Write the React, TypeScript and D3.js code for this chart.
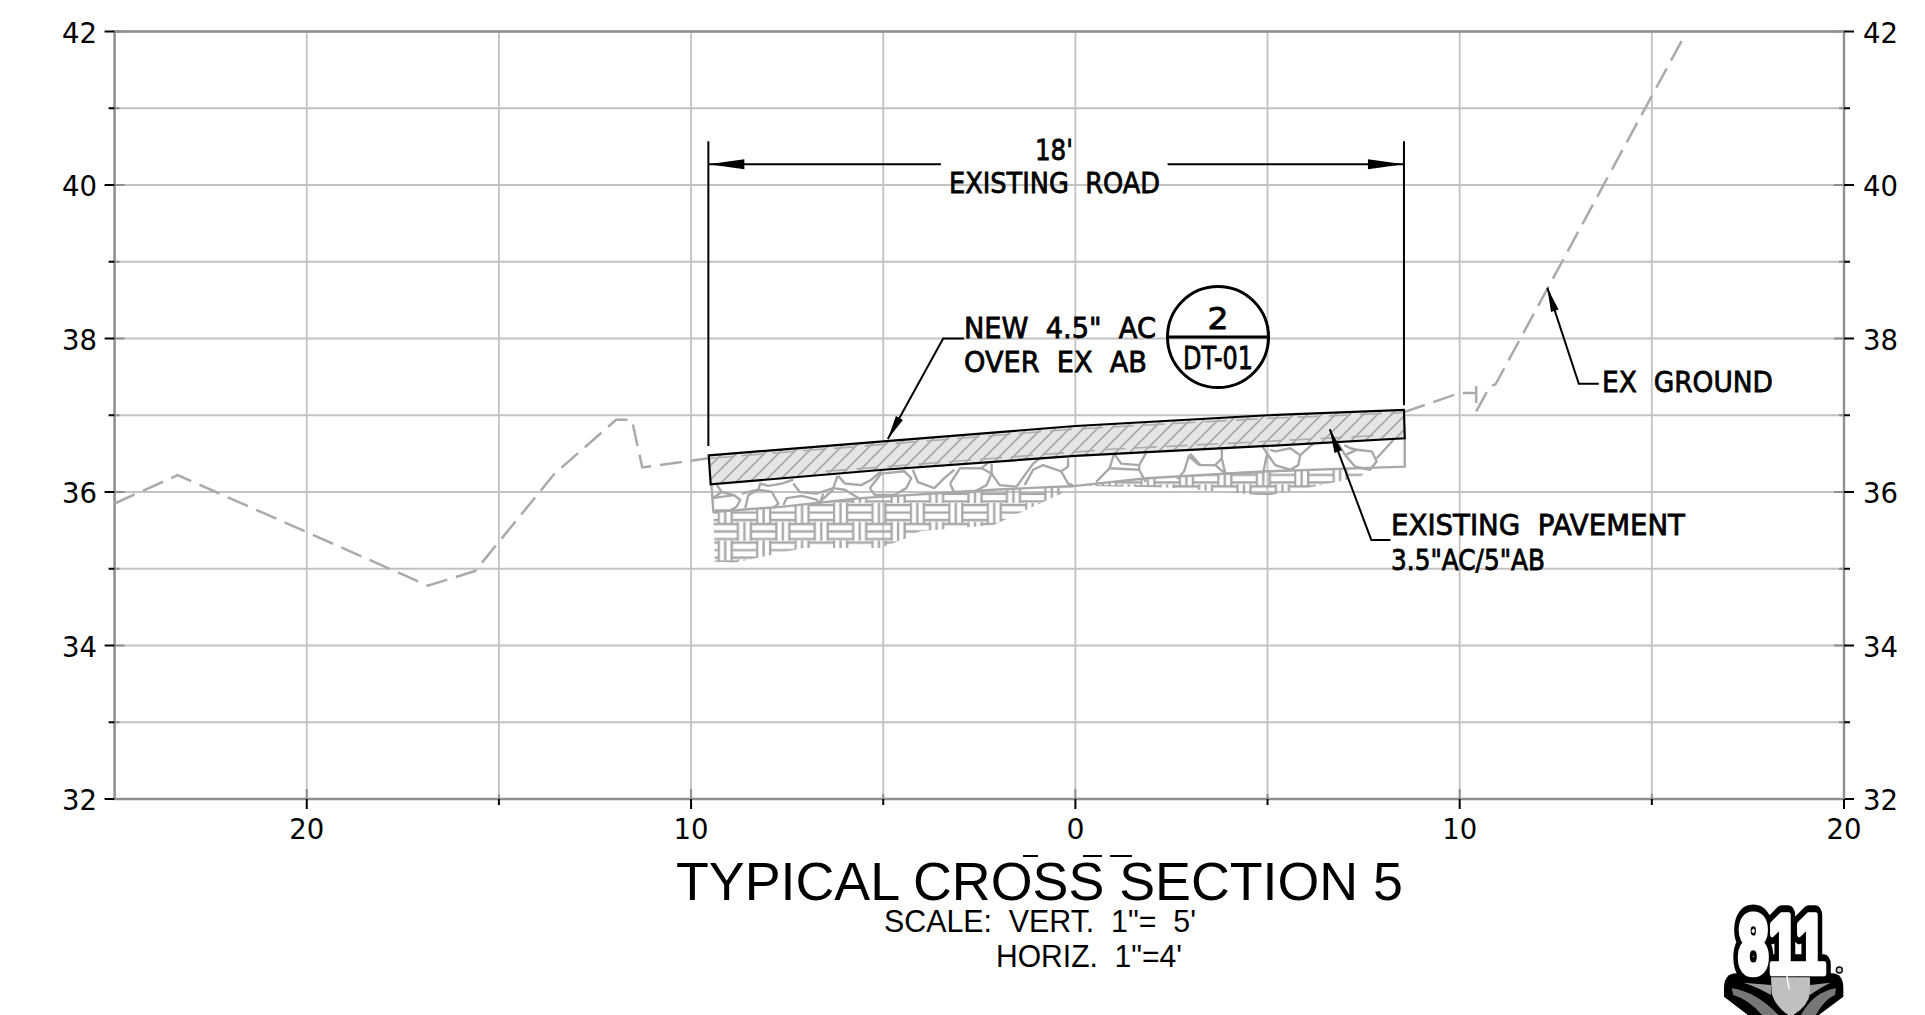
import React from "react";
import * as d3 from "d3";

type Pt = [number, number];

const yMajor = [32, 34, 36, 38, 40, 42];
const yMinor = [33, 35, 37, 39, 41];
const xMajor = [-20, -10, 0, 10, 20];
const xMinor = [-25, -15, -5, 5, 15];

const groundLeft: Pt[] = [[-25, 35.85], [-23.36, 36.22], [-16.85, 34.78], [-15.62, 34.97], [-13.55, 36.24], [-11.95, 36.94], [-11.54, 36.94], [-11.27, 36.32], [-9.55, 36.44]];
const groundRight: Pt[] = [[8.55, 37.04], [10, 37.29], [10.43, 37.29]];
const groundTick: Pt[] = [[10.43, 37.38], [10.43, 37.16]];
const groundRise: Pt[] = [[10.43, 37.05], [10.79, 37.38], [10.93, 37.40], [15.8, 41.9]];

const pavementTop: Pt[] = [[-9.54, 36.477], [-5, 36.66], [0, 36.86], [5, 37.0], [8.55, 37.07]];
const pavementBottom: Pt[] = [[8.57, 36.7], [5, 36.6], [0, 36.47], [-5, 36.29], [-9.49, 36.1]];
const oldSurface: Pt[] = [[-9.5, 36.44], [-5, 36.62], [0, 36.82], [5, 36.96], [8.5, 37.03]];
const oldPavementBase: Pt[] = [[-6.5, 36.27], [-2.1, 36.44], [1, 36.56], [4.6, 36.65], [8, 36.74]];

const baseOutline: Pt[] = [[-9.47, 36.1], [-9.42, 35.74], [-7.6, 35.81], [-5.6, 35.92], [-2.13, 36.03], [0, 36.08], [1.85, 36.18], [5, 36.27], [8.57, 36.33], [8.57, 36.7]];

const weaveArea: Pt[] = [[-9.42, 35.73], [-7.6, 35.81], [-5.6, 35.92], [-4.21, 35.97], [-2.13, 36.03], [0, 36.08], [1.85, 36.18], [5, 36.27], [7.57, 36.3], [7.44, 36.2], [6.1, 36.06], [4.98, 35.95], [4.1, 35.99], [2.37, 36.06], [0.03, 36.08], [-0.4, 35.97], [-1.44, 35.73], [-2.13, 35.57], [-4.04, 35.49], [-4.48, 35.38], [-5.08, 35.27], [-7.08, 35.27], [-8.85, 35.08], [-9.38, 35.09]];

const rockLines: Pt[][] = [
  [[-9.44, 35.92], [-8.89, 35.96], [-8.72, 35.9], [-8.81, 35.81], [-8.98, 35.76], [-9.39, 35.76]],
  [[-9.33, 36.09], [-9.2, 36.0], [-8.89, 35.96]],
  [[-9.2, 36.0], [-9.44, 35.92]],
  [[-8.59, 35.79], [-8.51, 35.96], [-8.25, 36.03], [-7.9, 36.0], [-7.73, 35.85], [-7.86, 35.79]],
  [[-8.68, 35.98], [-8.25, 36.03], [-8.2, 36.11], [-7.99, 36.08], [-7.64, 36.11], [-7.34, 36.16]],
  [[-7.34, 36.11], [-7.17, 36.0], [-6.74, 35.98], [-6.3, 36.05], [-6.19, 36.21]],
  [[-6.3, 36.05], [-6.0, 36.03], [-5.57, 35.9]],
  [[-6.17, 36.21], [-6.0, 36.11], [-5.57, 36.09], [-5.31, 36.16], [-5.05, 36.27]],
  [[-5.35, 36.05], [-5.05, 36.24], [-4.45, 36.27], [-4.27, 36.18], [-4.4, 36.05], [-4.71, 35.96], [-5.22, 35.96], [-5.35, 36.05]],
  [[-4.23, 36.29], [-4.1, 36.13], [-3.67, 36.05], [-3.41, 36.18], [-3.15, 36.29]],
  [[-7.6, 35.83], [-7.51, 35.92], [-7.12, 35.95], [-6.74, 35.9], [-6.65, 35.85], [-6.56, 35.98]],
  [[-6.65, 35.87], [-6.3, 36.03]],
  [[-3.26, 36.11], [-3.0, 36.31], [-2.44, 36.31], [-2.18, 36.24], [-2.31, 36.09], [-2.65, 36.0], [-3.16, 36.0], [-3.26, 36.11]],
  [[-2.44, 36.31], [-2.18, 36.42]],
  [[-2.18, 36.24], [-2.18, 36.37]],
  [[-2.18, 36.24], [-1.97, 36.09], [-1.53, 36.07], [-1.1, 36.37], [-0.92, 36.44]],
  [[-1.32, 36.09], [-1.1, 36.29], [-0.84, 36.35], [-0.37, 36.27], [-0.19, 36.33], [-0.19, 36.44]],
  [[-0.37, 36.27], [-0.19, 36.11], [-0.06, 36.09]],
  [[0.54, 36.13], [0.89, 36.31], [1.01, 36.5]],
  [[0.89, 36.31], [1.66, 36.29], [1.83, 36.13]],
  [[1.01, 36.5], [1.19, 36.37], [1.66, 36.35], [1.83, 36.5]],
  [[1.66, 36.29], [1.66, 36.35]],
  [[2.65, 36.17], [2.83, 36.27], [2.96, 36.48]],
  [[2.96, 36.46], [3.22, 36.35]],
  [[2.985, 36.5], [3.25, 36.35], [3.64, 36.35], [3.81, 36.44], [3.81, 36.55]],
  [[3.64, 36.35], [3.9, 36.24], [4.89, 36.26], [4.99, 36.5], [4.85, 36.61]],
  [[3.9, 36.24], [3.81, 36.44]],
  [[4.99, 36.5], [5.2, 36.35], [5.59, 36.29], [5.8, 36.35], [5.85, 36.48], [5.59, 36.57], [5.2, 36.53], [5.07, 36.55]],
  [[5.85, 36.48], [6.19, 36.63]],
  [[7.02, 36.48], [7.32, 36.55], [7.71, 36.53], [7.84, 36.4], [7.67, 36.29], [7.28, 36.33], [7.02, 36.48]],
  [[7.84, 36.44], [8.28, 36.68]],
  [[7.02, 36.48], [6.84, 36.63]],
  [[7.0, 36.61], [7.15, 36.57], [7.32, 36.55]],
];

const dimLeft: Pt[] = [[-9.55, 40.57], [-9.55, 36.6]];
const dimRight: Pt[] = [[8.55, 40.57], [8.55, 37.13]];
const dimElev = 40.27;
const dimArrowLeft: Pt[] = [[-9.55, dimElev], [-6.9, dimElev]];
const dimLineLeft: Pt[] = [[-9.55, dimElev], [-3.5, dimElev]];
const dimLineRight: Pt[] = [[2.4, dimElev], [8.55, dimElev]];
const leaderNew: Pt[] = [[-4.88, 36.69], [-3.44, 38.0], [-2.9, 38.0]];
const leaderPavement: Pt[] = [[6.62, 36.82], [7.7, 35.375], [8.2, 35.375]];
const leaderGround: Pt[] = [[12.28, 38.66], [13.1, 37.41], [13.62, 37.41]];

const x = d3.scaleLinear().domain([-25, 20]).range([114.6, 1844]);
const y = d3.scaleLinear().domain([32, 42]).range([799, 31.5]);
const line = d3.line<Pt>().x((d) => x(d[0])).y((d) => y(d[1]));

const GRID = "#c2c2c2";
const AXIS = "#8f8f8f";
const GROUND = "#aaaaaa";
const CAD = "'DejaVu Sans', sans-serif";

function arrowHead(tip: Pt, from: Pt, len: number, half: number) {
  const tx = x(tip[0]), ty = y(tip[1]);
  const dx = x(from[0]) - tx, dy = y(from[1]) - ty;
  const n = Math.hypot(dx, dy);
  const ux = dx / n, uy = dy / n;
  const bx = tx + ux * len, by = ty + uy * len;
  return `M${tx},${ty}L${bx - uy * half},${by + ux * half}L${bx + uy * half},${by - ux * half}Z`;
}

function CadText(p: { x: number; y: number; w: number; size?: number; children: string; anchor?: string }) {
  return (
    <text x={p.x} y={p.y} fontFamily={CAD} fontSize={p.size ?? 28.5} fill="#000" stroke="#000" strokeWidth={0.8}
      textLength={p.w} lengthAdjust="spacingAndGlyphs" textAnchor={p.anchor ?? "start"} style={{ whiteSpace: "pre" }}>
      {p.children}
    </text>
  );
}

function tickLabelLength(v: number) {
  return Math.abs(v) < 10 ? 18 : 35;
}

export default function App() {
  const pav = [...pavementTop, ...pavementBottom];
  const [l, r] = [x.range()[0], x.range()[1]];
  const [t, b] = [y.range()[1], y.range()[0]];
  return (
    <svg width={1925} height={1015} viewBox="0 0 1925 1015" style={{ position: "absolute", left: 0, top: 0, background: "#fff" }}>
      <defs>
        <pattern id="hatch" patternUnits="userSpaceOnUse" width={14} height={14}>
          <rect width={14} height={14} fill="#e5e5e5" />
          <path d="M-2,2L2,-2M0,14L14,0M12,16L16,12" stroke="#a9a9a9" strokeWidth={1.7} />
        </pattern>
        <pattern id="weave" patternUnits="userSpaceOnUse" width={38.43} height={37.6} patternTransform="translate(833,503)">
          <g stroke="#a8a8a8" strokeWidth={2.4} fill="none">
            <path d="M1,-1V20M7.5,-1V20M14,-1V20" />
            <path d="M14,2H38.43M14,9.5H38.43M14,17H38.43" />
            <path d="M20.2,19V39M26.7,19V39M33.2,19V39" />
            <path d="M0,21H20.2M33.2,21H38.43M0,28.5H20.2M33.2,28.5H38.43M0,36H20.2M33.2,36H38.43" />
          </g>
        </pattern>
      </defs>

      {/* grid */}
      {[...yMajor, ...yMinor].map((v) => (
        <line key={"gy" + v} x1={l} x2={r} y1={y(v)} y2={y(v)} stroke={GRID} strokeWidth={1.8} />
      ))}
      {[...xMajor, ...xMinor].map((v) => (
        <line key={"gx" + v} x1={x(v)} x2={x(v)} y1={t} y2={b} stroke={GRID} strokeWidth={1.8} />
      ))}

      {/* frame */}
      <path d={`M${l},${b}V${t}H${r}V${b}H${l}Z`} fill="none" stroke={AXIS} strokeWidth={2.4} />

      {/* y ticks and labels */}
      {yMajor.map((v) => (
        <g key={"ym" + v}>
          <line x1={l - 10} x2={l} y1={y(v)} y2={y(v)} stroke="#000" strokeWidth={2} />
          <line x1={l} x2={l + 10} y1={y(v)} y2={y(v)} stroke={AXIS} strokeWidth={2} />
          <line x1={r} x2={r + 10} y1={y(v)} y2={y(v)} stroke="#000" strokeWidth={2} />
          <line x1={r - 10} x2={r} y1={y(v)} y2={y(v)} stroke={AXIS} strokeWidth={2} />
          <text x={97} y={y(v) + 11} fontFamily={CAD} fontSize={29} textAnchor="end" textLength={35} lengthAdjust="spacingAndGlyphs">{v}</text>
          <text x={1863} y={y(v) + 11} fontFamily={CAD} fontSize={29} textLength={35} lengthAdjust="spacingAndGlyphs">{v}</text>
        </g>
      ))}
      {yMinor.map((v) => (
        <g key={"yn" + v}>
          <line x1={l - 6} x2={l} y1={y(v)} y2={y(v)} stroke="#000" strokeWidth={2} />
          <line x1={l} x2={l + 5} y1={y(v)} y2={y(v)} stroke={AXIS} strokeWidth={2} />
          <line x1={r} x2={r + 6} y1={y(v)} y2={y(v)} stroke="#000" strokeWidth={2} />
          <line x1={r - 5} x2={r} y1={y(v)} y2={y(v)} stroke={AXIS} strokeWidth={2} />
        </g>
      ))}

      {/* x ticks and labels */}
      {xMajor.map((v) => (
        <g key={"xm" + v}>
          <line x1={x(v)} x2={x(v)} y1={b} y2={b + 10} stroke="#000" strokeWidth={2} />
          <line x1={x(v)} x2={x(v)} y1={b - 10} y2={b} stroke={AXIS} strokeWidth={2} />
          <text x={x(v)} y={839} fontFamily={CAD} fontSize={29} textAnchor="middle" textLength={tickLabelLength(v)} lengthAdjust="spacingAndGlyphs">{Math.abs(v)}</text>
        </g>
      ))}
      {xMinor.filter((v) => v > -25).map((v) => (
        <g key={"xn" + v}>
          <line x1={x(v)} x2={x(v)} y1={b} y2={b + 6} stroke="#000" strokeWidth={2} />
          <line x1={x(v)} x2={x(v)} y1={b - 5} y2={b} stroke={AXIS} strokeWidth={2} />
        </g>
      ))}

      {/* existing ground */}
      <g fill="none" stroke={GROUND} strokeWidth={2.5}>
        <path d={line(groundLeft)!} strokeDasharray="22 9" />
        <path d={line(groundRight)!} strokeDasharray="22 9" />
        <path d={line(groundTick)!} />
        <path d={line(groundRise)!} strokeDasharray="22 9" />
      </g>

      {/* weave and rocks */}
      <path d={line(weaveArea)! + "Z"} fill="url(#weave)" />
      <g fill="none" stroke="#a8a8a8" strokeWidth={2.4} strokeLinejoin="round">
        <path d={line(baseOutline)!} />
        {rockLines.map((d, i) => <path key={"r" + i} d={line(d)!} />)}
      </g>

      {/* pavement */}
      <path d={line(pav)! + "Z"} fill="url(#hatch)" />
      <path d={line(oldSurface)!} fill="none" stroke="#adadad" strokeWidth={1.6} strokeDasharray="22 9" />
      <path d={line(oldPavementBase)!} fill="none" stroke="#adadad" strokeWidth={1.6} strokeDasharray="22 9" />
      <path d={line(pav)! + "Z"} fill="none" stroke="#000" strokeWidth={2.2} strokeLinejoin="miter" />

      {/* dimension */}
      <g fill="none" stroke="#000" strokeWidth={2}>
        <path d={line(dimLeft)!} />
        <path d={line(dimRight)!} />
        <path d={line(dimLineLeft)!} />
        <path d={line(dimLineRight)!} />
      </g>
      <path d={arrowHead(dimArrowLeft[0], dimArrowLeft[1], 36, 5)} fill="#000" />
      <path d={arrowHead([8.55, dimElev], [2.4, dimElev], 36, 5)} fill="#000" />
      <CadText x={1035} y={160} w={38}>18'</CadText>
      <CadText x={949} y={193} w={211}>EXISTING  ROAD</CadText>

      {/* leaders */}
      <g fill="none" stroke="#000" strokeWidth={2}>
        <path d={line(leaderNew)!} />
        <path d={line(leaderPavement)!} />
        <path d={line(leaderGround)!} />
      </g>
      <path d={arrowHead(leaderNew[0], leaderNew[1], 24, 4)} fill="#000" />
      <path d={arrowHead(leaderPavement[0], leaderPavement[1], 24, 4)} fill="#000" />
      <path d={arrowHead(leaderGround[0], leaderGround[1], 24, 4)} fill="#000" />

      <CadText x={964} y={338} w={192}>NEW  4.5"  AC</CadText>
      <CadText x={964} y={372} w={183}>OVER  EX  AB</CadText>
      <CadText x={1391} y={535} w={294}>EXISTING  PAVEMENT</CadText>
      <CadText x={1391} y={570} w={154}>3.5"AC/5"AB</CadText>
      <CadText x={1602} y={392} w={171}>EX  GROUND</CadText>

      {/* detail bubble */}
      <circle cx={1218} cy={337} r={50.5} fill="none" stroke="#000" strokeWidth={3} />
      <line x1={1167} x2={1269} y1={337} y2={337} stroke="#000" strokeWidth={3} />
      <CadText x={1218} y={329} w={21} size={30} anchor="middle">2</CadText>
      <CadText x={1218} y={369} w={70} size={32} anchor="middle">DT-01</CadText>

      {/* title */}
      <text x={676} y={900} fontFamily="'Liberation Sans', sans-serif" fontSize={53} textLength={727} lengthAdjust="spacingAndGlyphs">TYPICAL CROSS SECTION 5</text>
      <g stroke="#000" strokeWidth={2}>
        <line x1={1023} x2={1038} y1={856} y2={856} />
        <line x1={1083} x2={1102} y1={856} y2={856} />
        <line x1={1110} x2={1132} y1={856} y2={856} />
      </g>
      <text x={884} y={932} fontFamily="'Liberation Sans', sans-serif" fontSize={31} textLength={312} lengthAdjust="spacingAndGlyphs" style={{ whiteSpace: "pre" }}>{'SCALE:  VERT.  1"=  5\''}</text>
      <text x={996} y={967} fontFamily="'Liberation Sans', sans-serif" fontSize={31} textLength={186} lengthAdjust="spacingAndGlyphs" style={{ whiteSpace: "pre" }}>{'HORIZ.  1"=4\''}</text>

      {/* 811 logo */}
      <g transform="translate(1700,890) scale(0.3333)">
        <path d="M72,295Q72,250 110,250H395Q430,250 430,295V320L350,380H150L72,320Z" fill="#000" />
        <text x={246} y={250} textAnchor="middle" fontFamily="'Liberation Sans', sans-serif" fontWeight={700} fontSize={250} textLength={262}
          lengthAdjust="spacingAndGlyphs" fill="#000" stroke="#000" strokeWidth={62} strokeLinejoin="round">811</text>
        <text x={246} y={250} textAnchor="middle" fontFamily="'Liberation Sans', sans-serif" fontWeight={700} fontSize={250} textLength={262}
          lengthAdjust="spacingAndGlyphs" fill="#fff" stroke="#fff" strokeWidth={20} strokeLinejoin="round">811</text>
        <path d="M213,262H330V310Q325,350 272,380Q225,350 215,310Z" fill="#c0c0c0" />
        <path d="M95,295Q170,305 240,380L190,380Q150,330 100,315Z" fill="#777" />
        <path d="M408,295Q340,305 300,380L345,380Q370,330 405,315Z" fill="#777" />
        <path d="M130,278L213,285V315Q170,290 130,278Z" fill="#999" />
        <path d="M392,278L330,285V315Q365,290 392,278Z" fill="#999" />
        <path d="M260,250Q262,275 268,298" stroke="#fff" strokeWidth={4} fill="none" />
        <circle cx={418} cy={240} r={9} fill="#ccc" stroke="#000" strokeWidth={4} />
      </g>
    </svg>
  );
}
